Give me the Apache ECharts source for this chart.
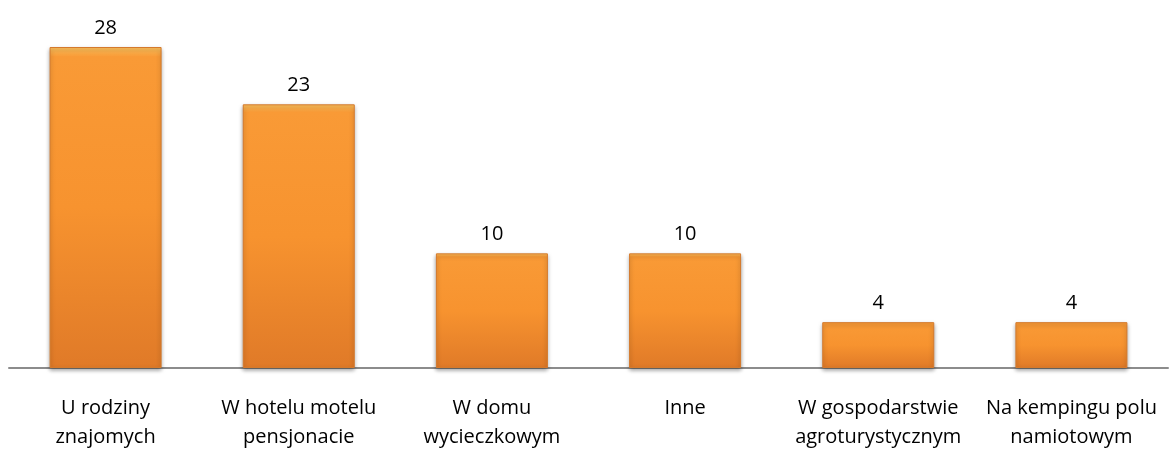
<!DOCTYPE html>
<html>
<head>
<meta charset="utf-8">
<script src="https://cdn.jsdelivr.net/npm/echarts@6/dist/echarts.min.js"></script>
<style>
  html, body { margin: 0; padding: 0; background: #fff; }
  #chart { width: 1169px; height: 452px; }
</style>
</head>
<body>
<div id="chart"></div>
<script>
  // kategorie i wartości
  var categories = [
    'U rodziny\nznajomych',
    'W hotelu motelu\npensjonacie',
    'W domu\nwycieczkowym',
    'Inne',
    'W gospodarstwie\nagroturystycznym',
    'Na kempingu polu\nnamiotowym'
  ];
  var values = [28, 23, 10, 10, 4, 4];

  var chart = echarts.init(document.getElementById('chart'));
  chart.setOption({
    animation: false,
    grid: { left: 9, right: 1, top: 47, bottom: 84 },
    xAxis: {
      type: 'category',
      data: categories,
      axisLine: { lineStyle: { color: '#8c8c8c', width: 2 } },
      axisTick: { show: false },
      axisLabel: {
        interval: 0,
        margin: 26,
        color: '#000',
        fontFamily: 'Open Sans',
        fontSize: 20,
        lineHeight: 29
      }
    },
    yAxis: {
      type: 'value',
      min: 0,
      max: 28,
      show: false,
      splitLine: { show: false }
    },
    series: [{
      type: 'bar',
      data: values,
      barWidth: 112,
      label: {
        show: true,
        position: 'top',
        distance: 9,
        color: '#000',
        fontFamily: 'Open Sans',
        fontSize: 20
      },
      itemStyle: {
        color: new echarts.graphic.LinearGradient(0, 0, 0, 1, [
          { offset: 0, color: '#fcc25e' },
          { offset: 0.03, color: '#f99a36' },
          { offset: 0.5, color: '#f7932f' },
          { offset: 1, color: '#e07a28' }
        ]),
        borderColor: '#d57a2c',
        borderWidth: 1,
        shadowColor: 'rgba(0,0,0,0.35)',
        shadowBlur: 4,
        shadowOffsetY: 2
      }
    }]
  });
</script>
</body>
</html>
